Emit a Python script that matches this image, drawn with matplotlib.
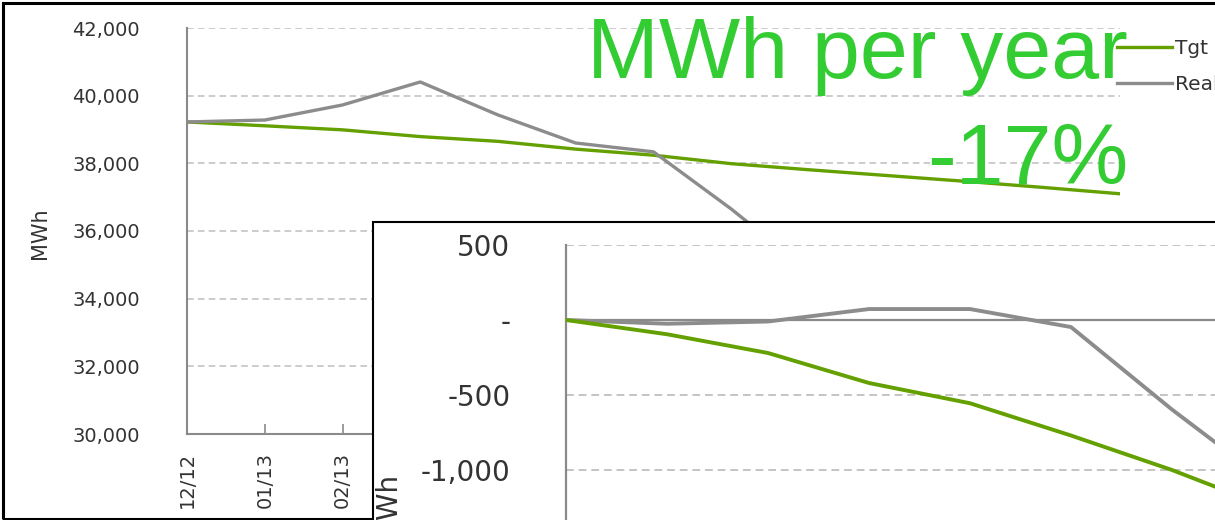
import numpy as np
import matplotlib
matplotlib.use("Agg")
import matplotlib.pyplot as plt
from matplotlib.patches import Rectangle
from matplotlib.ticker import FuncFormatter

plt.rcParams.update({"font.family": ["DejaVu Sans"], "lines.solid_joinstyle": "round"})

# ---- data ----
months = ["12/12", "01/13", "02/13", "03/13", "04/13", "05/13", "06/13",
          "07/13", "08/13", "09/13", "10/13", "11/13", "12/13"]
tgt_mwh = [39223, 39110, 38990, 38790, 38650, 38420, 38240,
           37990, 37810, 37640, 37470, 37290, 37100]
real_mwh = [39223, 39280, 39725, 40405, 39430, 38600, 38340, 36650, 34800]

# inset: deviation from Dec-12 level
inset_tgt = [0, -95, -220, -420, -555, -770, -1000, -1260]
inset_real = [0, -25, -10, 73, 73, -47, -597, -1107]

GREEN = "#64a000"
GREY = "#8c8c8c"
GRID = "#c4c4c4"
TXT = "#333333"
BIG = "#33cc33"

W, H = 1215, 520
fig = plt.figure(figsize=(W / 100, H / 100), dpi=100)


def px(x0, y_top, x1, y_bot):
    # pixel box -> figure fraction rect
    return [x0 / W, 1 - y_bot / H, (x1 - x0) / W, (y_bot - y_top) / H]


def fmt(v, _):
    return "-" if abs(v) < 1e-9 else f"{v:,.0f}"


# ---- main chart ----
ax = fig.add_axes(px(187, 28, 1120, 434))
ax.set_zorder(1)
x = np.arange(len(months))
l_tgt, = ax.plot(x, tgt_mwh, color=GREEN, lw=2.4, label="Tgt", zorder=3)
l_real, = ax.plot(np.arange(len(real_mwh)), real_mwh, color=GREY, lw=2.4,
                  label="Real", zorder=4)
ax.set_xlim(0, len(months) - 1)
ax.set_ylim(30000, 42000)
ax.set_yticks(np.arange(30000, 42001, 2000))
ax.yaxis.set_major_formatter(FuncFormatter(fmt))
ax.set_xticks(x)
ax.set_xticklabels(months, rotation=90, va="top")
for v in np.arange(32000, 42001, 2000):
    ax.axhline(v, color=GRID, lw=1.2, dashes=(4, 2.5), zorder=1)
for s in ("top", "right"):
    ax.spines[s].set_visible(False)
for s in ("left", "bottom"):
    ax.spines[s].set_color("#8a8a8a")
    ax.spines[s].set_linewidth(1.5)
ax.tick_params(axis="y", length=0, pad=34, labelsize=14, labelcolor=TXT)
ax.tick_params(axis="x", direction="in", length=7, width=1.2, color="#8a8a8a",
               pad=13, labelsize=14, labelcolor=TXT)
ax.set_ylabel("MWh", fontsize=15, color=TXT)
ax.yaxis.set_label_coords((50 - 187) / 933, 0.495)

# outer chart border
fig.add_artist(Rectangle((3 / W, 1 / H), 2, (519 - 3) / H, transform=fig.transFigure,
                         fill=False, ec="black", lw=2.2, zorder=2))

# ---- inset chart ----
fig.add_artist(Rectangle((373 / W, -0.5), 2, (520 - 222) / H + 0.5,
                         transform=fig.transFigure, fc="white", ec="black",
                         lw=1.5, zorder=3))
ins = fig.add_axes(px(566, 245, 1273, 545))
ins.set_zorder(4)
ins.set_facecolor("white")
xi = np.arange(len(inset_tgt))
ins.plot(xi, inset_real, color=GREY, lw=2.8, zorder=3)
ins.plot(xi, inset_tgt, color=GREEN, lw=2.8, zorder=4)
ins.set_xlim(0, 7)
ins.set_ylim(-1500, 500)
ins.set_yticks([-1000, -500, 0, 500])
ins.yaxis.set_major_formatter(FuncFormatter(fmt))
for v in (500, -500, -1000):
    ins.axhline(v, color=GRID, lw=1.4, dashes=(4, 2.5), zorder=1)
ins.axhline(0, color="#8a8a8a", lw=1.6, zorder=2)
for s in ("top", "right", "bottom"):
    ins.spines[s].set_visible(False)
ins.spines["left"].set_color("#8a8a8a")
ins.spines["left"].set_linewidth(1.6)
ins.set_xticks([])
ins.tick_params(axis="y", length=0, pad=40, labelsize=20, labelcolor=TXT)
ins.set_ylabel("MWh", fontsize=20, color=TXT)
ins.yaxis.set_label_coords((401 - 566) / 707, 0.13)

# ---- headline ----
fig.text(1128 / W, 1 - 78 / H, "MWh per year", ha="right", va="baseline",
         fontsize=62, color=BIG, family="Liberation Sans", zorder=5)
fig.text(1128 / W, 1 - 183 / H, "-17%", ha="right", va="baseline",
         fontsize=62, color=BIG, family="Liberation Sans", zorder=5)

leg = fig.legend([l_tgt, l_real], ["Tgt", "Real"], loc="upper left",
                 bbox_to_anchor=(1109 / W, 1 - 31 / H), frameon=False,
                 fontsize=14.5, handlelength=2.75, handletextpad=0.15,
                 labelspacing=0.85, borderaxespad=0, labelcolor=TXT)
leg.set_zorder(6)

fig.savefig("out.png", dpi=100)
